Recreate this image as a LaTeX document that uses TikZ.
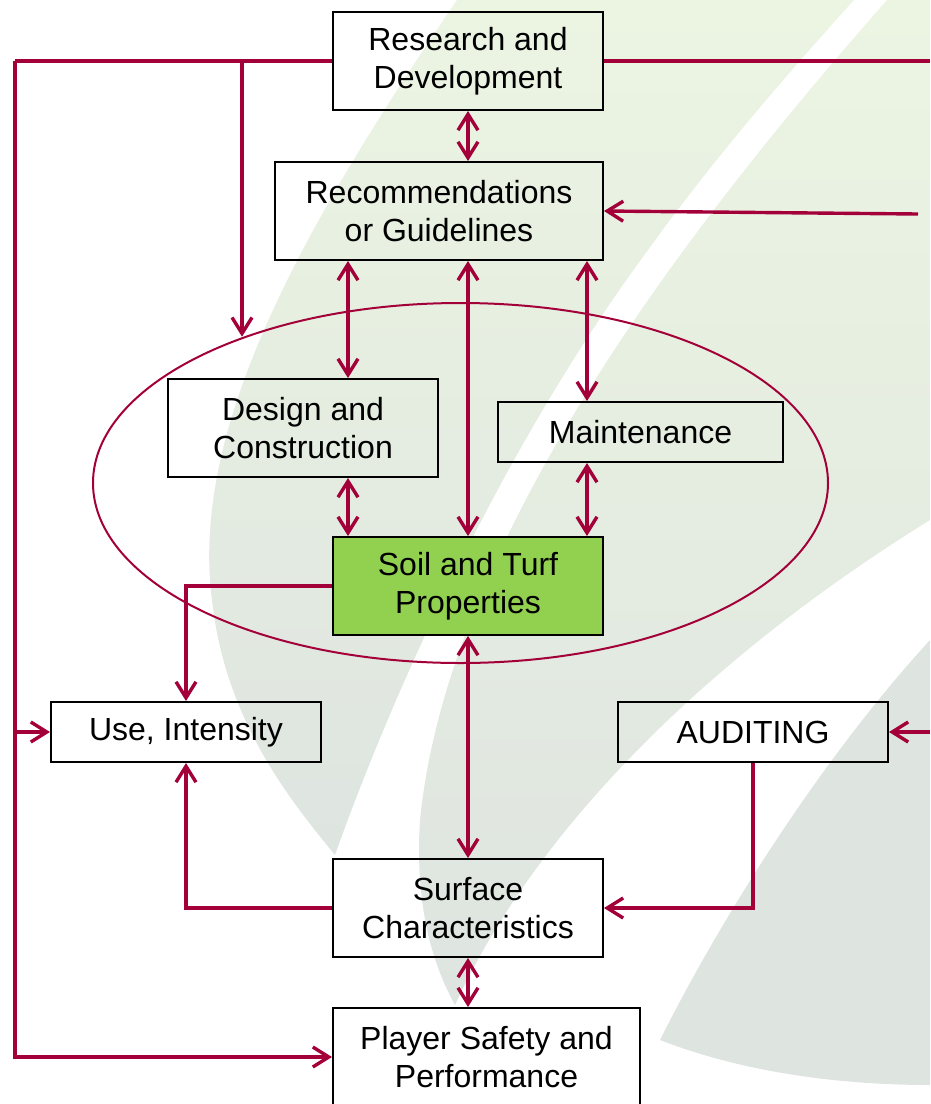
\documentclass[tikz,border=0pt]{standalone}
\usepackage{fontspec}
\setmainfont{Liberation Sans}
\usetikzlibrary{arrows.meta,shapes.geometric}

\definecolor{linkred}{RGB}{163,0,58}
\definecolor{soilgreen}{RGB}{146,208,80}
\definecolor{leafgreen}{RGB}{236,245,226}
\definecolor{leafgrey}{RGB}{222,228,224}

\begin{document}
\begin{tikzpicture}[
  x=1pt, y=-1pt,
  box/.style={draw=black, line width=2pt, minimum width=270pt, minimum height=98pt,
    align=center, inner sep=0pt, font=\fontsize{32}{38}\selectfont},
  flat/.style={box, minimum height=60pt},
  link/.style={draw=linkred, line width=3.4pt, ->},
  both/.style={link, <->},
  >={Straight Barb[length=16pt,width=20pt]}
]
\clip (0,0) rectangle (930,1104);

% faint background leaves
\shade[top color=leafgreen, bottom color=leafgrey]
  (457,0) .. controls (300,230) and (190,430) .. (212,600)
  .. controls (225,720) and (290,800) .. (335,855)
  .. controls (390,700) and (500,450) .. (648,250)
  .. controls (720,150) and (800,60) .. (854,0) -- cycle;
\shade[top color=leafgreen, bottom color=leafgrey]
  (887,0) .. controls (720,190) and (450,520) .. (420,820)
  .. controls (415,900) and (430,960) .. (455,1005)
  .. controls (540,820) and (720,650) .. (930,520) -- (930,0) -- cycle;
\fill[leafgrey]
  (930,640) .. controls (820,760) and (720,920) .. (660,1040)
  .. controls (750,1075) and (850,1085) .. (930,1085) -- cycle;

\node[ellipse, draw=linkred, line width=2pt, minimum width=735pt, minimum height=360pt] (ell) at (460.5,483) {};

\node[box] (rd) at (468,61) {Research and\\Development};
\node[box, minimum width=328pt] (rec) at (439,211) {Recommendations\\or Guidelines};
\node[box] (des) at (303,428) {Design and\\Construction};
\node[flat, minimum width=285pt] (mnt) at (640.5,432) {Maintenance};
\node[box, fill=soilgreen] (soil) at (468,586) {Soil and Turf\\Properties};
\node[flat] (use) at (186,732) {Use, Intensity};
\node[flat] (aud) at (753,732) {AUDITING};
\node[box] (surf) at (468,908) {Surface\\Characteristics};
\node[box, minimum width=307pt] (pl) at (486.5,1057) {Player Safety and\\Performance};

\coordinate (colA) at (348,0);
\coordinate (colB) at (468,0);
\coordinate (colC) at (587,0);
\coordinate (rdleft) at (15,61);
\coordinate (rdbranch) at (242,61);
\coordinate (useleft) at (15,732);
\coordinate (rdright) at (930,61);
\coordinate (recright) at (918,214);
\coordinate (audright) at (930,732);

\draw[link, -] (rd.west) -- (rdleft);
\draw[link] (rdleft) |- (pl.west);
\draw[link] (rdbranch) -- (rdbranch |- ell.146.4);
\draw[link] (useleft) -- (use.west);
\draw[link, -] (rd.east) -- (rdright);
\draw[link] (recright) -- (rec.east);
\draw[link] (audright) -- (aud.east);

\draw[both] (rd.south) -- (rd.south |- rec.north);
\draw[both] (rec.south -| colA) -- (des.north -| colA);
\draw[both] (rec.south -| colB) -- (soil.north -| colB);
\draw[both] (rec.south -| colC) -- (mnt.north -| colC);
\draw[both] (des.south -| colA) -- (soil.north -| colA);
\draw[both] (mnt.south -| colC) -- (soil.north -| colC);
\draw[both] (soil.south) -- (surf.north);
\draw[both] (surf.south) -- (surf.south |- pl.north);

\draw[link] (soil.west) -| (use.north);
\draw[link] (surf.west) -| (use.south);
\draw[link] (aud.south) |- (surf.east);
\end{tikzpicture}
\end{document}
